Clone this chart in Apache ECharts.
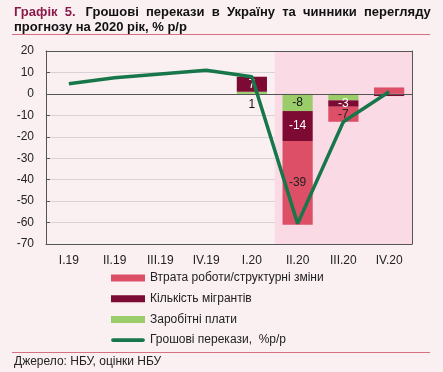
<!DOCTYPE html>
<html><head><meta charset="utf-8">
<script src="https://cdn.jsdelivr.net/npm/echarts@6/dist/echarts.min.js"></script>
<style>html,body{margin:0;padding:0;background:#FAF0F2;}#c{width:443px;height:372px;}</style>
</head><body><div id="c"></div>
<script>
const categories = ['I.19','II.19','III.19','IV.19','I.20','II.20','III.20','IV.20'];
const wages      = [null, null, null, null, 1, -8, -3, -0.3];
const migrants   = [null, null, null, null, 7, -14, -3, -0.7];
const jobLoss    = [null, null, null, null, null, -39, -7, 3];
const remittances = [4.7, 7.5, 9.3, 11, 8, -60.5, -13, 1];
const yTicks = {min: -70, max: 20, step: 10};

const chart = echarts.init(document.getElementById('c'));
const FONT = 'Liberation Sans, Arial, sans-serif';
const greenData = wages.map((v, i) => ({value: v, label: {show: i === 4 || i === 5, color: '#111', position: i === 4 ? 'bottom' : 'inside'}}));
const maroonData = migrants.map((v, i) => ({value: v, label: {show: i >= 4 && i <= 6, color: '#fff', position: 'inside'}}));
const pinkData = jobLoss.map((v, i) => ({value: v, label: {show: i === 5 || i === 6, color: '#222', position: 'inside'}}));

const frameAxisLine = {show: true, onZero: false, lineStyle: {color: '#555', width: 1}};

chart.setOption({
  backgroundColor: '#FAF0F2',
  animation: false,
  textStyle: {fontFamily: FONT},
  title: {
    left: 14, top: 5, padding: 0,
    text: '{a|Графік  5.}  {b|Грошові  перекази  в  Україну  та  чинники  перегляду}\n{b|прогнозу на 2020 рік, % р/р}',
    textStyle: {
      lineHeight: 15,
      rich: {
        a: {fontFamily: FONT, fontSize: 13, fontWeight: 'bold', color: '#8B1A4A', lineHeight: 15},
        b: {fontFamily: FONT, fontSize: 13, fontWeight: 'bold', color: '#111', lineHeight: 15}
      }
    }
  },
  graphic: [
    {type: 'line', shape: {x1: 12, y1: 34.5, x2: 430, y2: 34.5}, style: {stroke: '#D4707F', lineWidth: 1}},
    {type: 'line', shape: {x1: 12, y1: 352.5, x2: 430, y2: 352.5}, style: {stroke: '#D4707F', lineWidth: 1}},
    {type: 'text', left: 14, top: 356, style: {text: 'Джерело: НБУ, оцінки НБУ', font: '12px ' + FONT, fill: '#222'}}
  ],
  grid: {left: 46, right: 31, top: 51, bottom: 128},
  legend: {
    orient: 'vertical', left: 106, top: 266, itemWidth: 34, itemHeight: 7, itemGap: 6.7,
    textStyle: {fontFamily: FONT, fontSize: 12, color: '#222', lineHeight: 14},
    data: [
      {name: 'Втрата роботи/структурні зміни', icon: 'rect'},
      {name: 'Кількість мігрантів', icon: 'rect'},
      {name: 'Заробітні плати', icon: 'rect'},
      {name: 'Грошові перекази,  %р/р', icon: 'path://M0,0 L0,0 M34,7 L34,7 M2,1.6 L32,1.6 A1.9,1.9 0 0 1 32,5.4 L2,5.4 A1.9,1.9 0 0 1 2,1.6 Z'}
    ]
  },
  xAxis: [{
    type: 'category', data: categories,
    axisLine: frameAxisLine, axisTick: {show: false},
    axisLabel: {color: '#222', fontSize: 12, fontFamily: FONT, margin: 11},
    splitLine: {show: true, interval: (i) => i === 4, lineStyle: {color: '#DADADA'}},
    splitArea: {show: true, areaStyle: {color: ['rgba(0,0,0,0)','rgba(0,0,0,0)','rgba(0,0,0,0)','rgba(0,0,0,0)','rgba(0,0,0,0)','#F9DAE5','#F9DAE5','#F9DAE5']}}
  }, {
    type: 'category', data: categories, position: 'top',
    axisLine: frameAxisLine, axisTick: {show: false}, axisLabel: {show: false}, splitLine: {show: false}
  }],
  yAxis: [{
    type: 'value', min: yTicks.min, max: yTicks.max, interval: yTicks.step,
    axisLine: frameAxisLine,
    axisTick: {show: true, inside: true, length: 4, lineStyle: {color: '#555'}},
    axisLabel: {color: '#222', fontSize: 12, fontFamily: FONT, margin: 12},
    splitLine: {show: true, lineStyle: {color: '#D8D2D4'}}
  }, {
    type: 'value', min: yTicks.min, max: yTicks.max, interval: yTicks.step, position: 'right',
    axisLine: frameAxisLine, axisTick: {show: false}, axisLabel: {show: false}, splitLine: {show: false}
  }],
  series: [
    {name: 'Заробітні плати', type: 'bar', stack: 's', barWidth: '66%', data: greenData,
     itemStyle: {color: '#9ACD6A'}, label: {fontSize: 12, fontFamily: FONT}},
    {name: 'Кількість мігрантів', type: 'bar', stack: 's', data: maroonData,
     itemStyle: {color: '#7C0A33'}, label: {fontSize: 12, fontFamily: FONT}},
    {name: 'Втрата роботи/структурні зміни', type: 'bar', stack: 's', data: pinkData,
     itemStyle: {color: '#DD4F66'}, label: {fontSize: 12, fontFamily: FONT},
     markLine: {silent: true, symbol: 'none', label: {show: false}, lineStyle: {color: '#555', width: 1, type: 'solid'}, data: [{yAxis: 0}]}},
    {name: 'Грошові перекази,  %р/р', type: 'line', data: remittances, showSymbol: false, symbol: 'none', z: 5,
     lineStyle: {color: '#17774A', width: 3.5}, itemStyle: {color: '#17774A'}}
  ]
});
</script></body></html>
